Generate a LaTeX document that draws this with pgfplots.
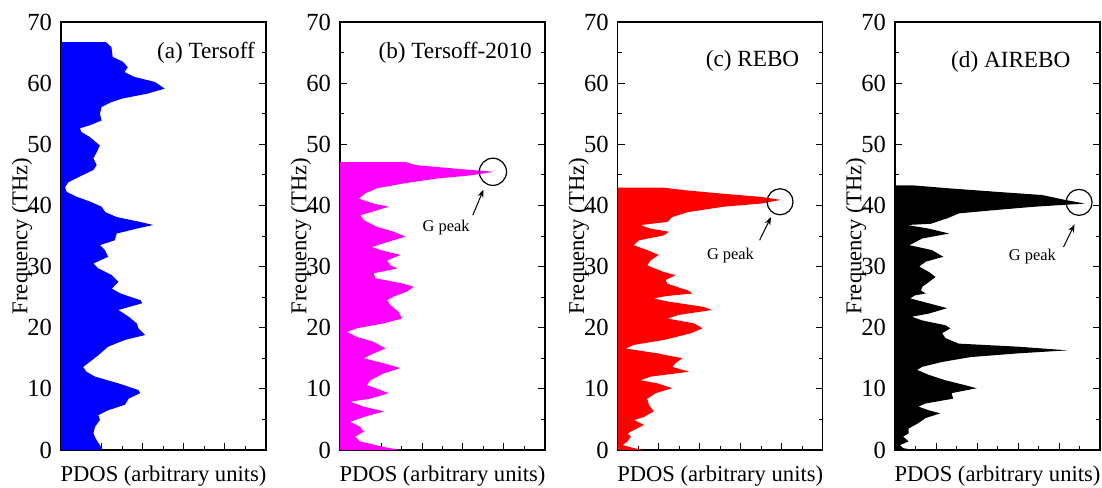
\documentclass[border=0pt]{standalone}
\usepackage{fontspec}
\setmainfont{Liberation Serif}
\usepackage{pgfplots}
\pgfplotsset{compat=1.18}
\usetikzlibrary{arrows.meta}
\definecolor{pblue}{HTML}{0000FF}
\definecolor{pmag}{HTML}{FF00FF}
\definecolor{pred}{HTML}{FF0000}

\pgfplotsset{
  pdos/.style={
    scale only axis, width=102.5pt, height=214pt,
    anchor=south west,
    xmin=0, xmax=5, ymin=0, ymax=70,
    xtick={0,1,2,3,4,5}, xticklabels={},
    minor x tick num=1,
    ytick={0,10,20,30,40,50,60,70}, minor y tick num=1,
    xtick pos=bottom,
    tick align=inside,
    major tick length=3.5pt, minor tick length=2pt,
    axis line style={line width=0.6pt}, every tick/.style={black, line width=0.5pt},
    /pgf/number format/assume math mode=true,
    ticklabel style={font=\fontsize{12.3}{14}\selectfont},
    yticklabel style={xshift=-1pt},
    label style={font=\fontsize{11.3}{13}\selectfont},
    xlabel={PDOS (arbitrary units)},
    ylabel={Frequency (THz)},
    xlabel style={at={(axis description cs:0.5,0)}, anchor=base, yshift=-15.8pt},
    ylabel style={at={(axis description cs:0,0.5)}, anchor=center, yshift=19.5pt},
  },
}
\tikzset{
  ttl/.style={anchor=east, font=\fontsize{11.6}{13}\selectfont},
  gp/.style={font=\fontsize{8.2}{10}\selectfont},
  arr/.style={-{Stealth[length=4pt,width=3pt]}, line width=0.5pt},
}

\begin{document}
\begin{tikzpicture}
\useasboundingbox (0,0) rectangle (551pt,243.5pt);

% (a) Tersoff
\begin{axis}[pdos, at={(30.5pt,18.5pt)}]
\addplot[fill=pblue, draw=none] coordinates {
(0,0)(1.0,0)(1.0,0.3)(0.87,1.6)(0.79,2.7)(0.83,3.8)(0.95,4.9)(0.91,5.7)(1.15,6.5)
(1.56,7.4)(1.65,8.4)(1.93,9.3)(1.89,9.8)(1.4,10.9)(0.83,12.0)(0.62,12.8)(0.54,13.6)
(0.7,14.4)(0.91,15.5)(1.15,16.9)(1.56,18.0)(2.05,18.8)(1.89,19.9)(1.85,20.7)(1.65,21.8)
(1.4,22.9)(1.98,24.0)(1.94,24.5)(1.45,25.6)(1.24,26.4)(1.4,27.5)(1.24,28.6)(0.91,29.7)
(0.79,30.5)(1.15,31.6)(1.07,32.7)(0.95,33.5)(1.31,34.3)(1.36,35.4)(1.84,36.2)(2.25,36.8)
(1.93,37.3)(1.36,38.1)(1.08,38.9)(0.99,39.8)(0.72,40.6)(0.39,41.4)(0.14,42.2)(0.1,43.0)
(0.18,43.8)(0.45,44.7)(0.79,45.8)(0.87,46.6)(0.79,47.7)(0.87,48.7)(0.95,49.8)(0.7,51.2)
(0.5,52.0)(0.46,52.6)(0.7,53.1)(0.99,53.9)(0.95,55.0)(0.99,56.1)(1.23,56.9)(1.51,57.5)
(2.12,58.3)(2.53,59.1)(2.29,60.2)(1.8,61.0)(1.55,61.8)(1.63,62.6)(1.51,63.5)(1.26,64.3)
(1.23,65.9)(1.1,66.7)(0,66.7)} -- cycle;
\node[ttl] at (axis cs:4.9,64.9) {(a) Tersoff};
\end{axis}

% (b) Tersoff-2010
\begin{axis}[pdos, at={(170pt,18.5pt)}]
\addplot[fill=pmag, draw=none] coordinates {
(0,0)(1.47,0)(1.06,0.5)(0.49,1.4)(0.37,2.2)(0.58,3.0)(0.49,3.8)(0.25,4.6)(0.58,5.4)
(1.07,6.3)(0.58,7.1)(0.25,7.9)(0.74,8.4)(1.19,9.3)(0.99,9.8)(0.66,10.6)(0.74,11.4)
(1.06,12.5)(1.47,13.4)(1.06,14.2)(0.58,15.0)(0.82,15.8)(1.11,16.6)(0.82,17.7)(0.41,18.5)
(0.17,19.3)(0.41,19.9)(1.06,20.7)(1.51,21.5)(1.43,22.6)(1.23,23.7)(1.15,24.5)(1.31,25.1)
(1.63,25.9)(1.8,26.7)(1.55,27.2)(0.86,28.1)(0.82,28.9)(1.4,29.7)(1.23,30.2)(1.15,31.0)
(1.48,31.9)(0.99,32.7)(0.78,33.2)(1.15,34.0)(1.6,34.9)(1.31,35.7)(0.9,36.5)(0.58,37.6)
(0.5,38.4)(0.9,39.2)(1.19,39.8)(0.82,40.3)(0.46,41.1)(0.62,42.0)(0.9,42.8)(1.55,43.6)
(2.37,44.4)(3.17,44.9)(3.75,45.5)(2.85,46.0)(1.84,46.6)(1.6,47.1)(0,47.1)} -- cycle;
\node[ttl] at (axis cs:4.85,64.9) {(b) Tersoff-2010};
\draw[line width=0.6pt] (axis cs:3.73,45.5) circle [radius=6.8pt];
\draw[arr] (axis cs:3.24,38.4) -- (axis cs:3.5,42.6);
\node[gp] at (axis cs:2.59,36.3) {G peak};
\end{axis}

% (c) REBO
\begin{axis}[pdos, at={(308.85pt,18.5pt)}]
\addplot[fill=pred, draw=none] coordinates {
(0,0)(0.65,0)(0.4,0.3)(0.12,0.8)(0.24,1.4)(0.32,2.2)(0.24,2.7)(0.4,3.3)(0.64,4.1)
(0.4,4.9)(0.64,5.4)(0.88,6.3)(0.76,7.4)(0.72,8.4)(0.93,9.3)(1.33,10.1)(0.97,10.9)
(0.56,11.4)(0.8,12.0)(1.74,12.8)(1.33,13.6)(1.41,14.2)(1.58,15.0)(0.97,15.8)(0.2,16.6)
(0.4,17.2)(1.13,18.0)(1.79,19.1)(2.07,19.9)(1.87,20.7)(1.21,21.5)(1.5,22.1)(2.3,22.9)
(2.1,23.4)(1.21,24.3)(0.88,24.8)(1.21,25.2)(1.83,25.6)(1.71,26.1)(1.21,27.2)(1.17,27.8)
(1.41,28.6)(1.13,29.1)(0.72,30.2)(0.8,31.0)(1.0,31.9)(0.72,32.7)(0.39,33.5)(0.52,34.3)
(1.13,35.1)(1.25,35.7)(0.8,36.2)(0.56,36.8)(1.21,37.3)(1.33,38.1)(1.71,38.9)(2.59,39.8)
(3.49,40.3)(3.98,40.9)(3.49,41.4)(2.59,41.9)(1.62,42.5)(1.13,42.9)(0,42.9)} -- cycle;
\node[ttl] at (axis cs:4.6,63.7) {(c) REBO};
\draw[line width=0.6pt] (axis cs:3.96,40.6) circle [radius=6.5pt];
\draw[arr] (axis cs:3.46,34.3) -- (axis cs:3.74,38.1);
\node[gp] at (axis cs:2.75,31.8) {G peak};
\end{axis}

% (d) AIREBO
\begin{axis}[pdos, at={(447.5pt,18.5pt)}]
\addplot[fill=black, draw=none] coordinates {
(0,0)(0.45,0)(0.2,0.3)(0.12,0.8)(0.33,1.4)(0.2,2.2)(0.33,2.7)(0.33,3.5)(0.57,4.4)
(0.74,5.2)(1.1,6.0)(0.82,6.5)(0.57,7.1)(0.74,7.6)(1.42,8.4)(1.38,9.3)(1.99,10.1)
(1.71,10.6)(1.23,11.4)(0.82,12.3)(0.54,13.1)(0.66,13.6)(1.15,14.4)(1.85,15.2)(2.99,15.8)
(4.21,16.3)(2.99,16.9)(1.55,17.4)(1.23,18.3)(1.15,19.1)(1.35,19.9)(1.23,20.4)(0.66,21.2)
(0.41,21.8)(0.82,22.3)(1.27,23.2)(0.82,24.0)(0.37,24.8)(0.49,25.3)(0.75,25.6)(0.63,26.1)
(0.67,26.7)(0.83,27.5)(0.99,28.3)(0.83,29.1)(0.59,30.0)(0.75,30.8)(1.18,31.6)(0.9,32.7)
(0.35,33.5)(0.67,34.6)(1.32,35.4)(0.83,36.2)(0.3,36.8)(0.87,37.0)(1.28,37.9)(1.56,38.7)
(2.37,39.2)(3.42,39.8)(4.63,40.3)(4.15,40.9)(3.59,41.7)(2.53,42.2)(1.31,42.8)(0.4,43.3)
(0,43.3)} -- cycle;
\node[ttl] at (axis cs:4.45,63.5) {(d) AIREBO};
\draw[line width=0.6pt] (axis cs:4.49,40.5) circle [radius=6.5pt];
\draw[arr] (axis cs:4.11,33.2) -- (axis cs:4.38,36.9);
\node[gp] at (axis cs:3.35,31.7) {G peak};
\end{axis}
\end{tikzpicture}
\end{document}
